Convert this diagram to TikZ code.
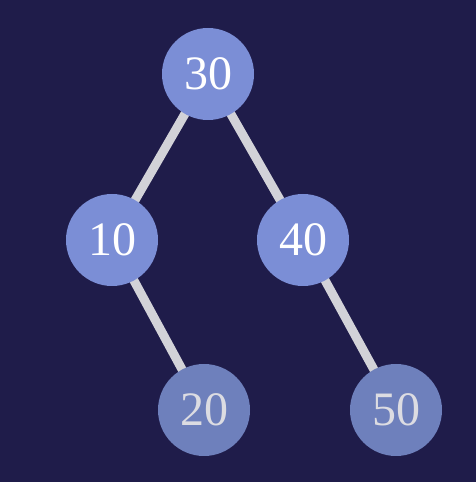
\documentclass[tikz,border=0pt]{standalone}
\usepackage{fontspec}
\setmainfont{Liberation Serif}
\begin{document}
\begin{tikzpicture}[x=1pt,y=1pt,
  treenode/.style={circle,minimum size=92pt,inner sep=0pt,fill=topfill,text=white,font=\fontsize{48}{52}\selectfont},
  lownode/.style={treenode,fill=lowfill,text=lowtext},
  edge/.style={line width=9pt,draw=edgecol}]
\definecolor{bg}{HTML}{1F1C4A}
\definecolor{topfill}{HTML}{7B8ED6}
\definecolor{lowfill}{HTML}{6E80BC}
\definecolor{lowtext}{HTML}{DCDCE2}
\definecolor{edgecol}{HTML}{D2D2D8}
\fill[bg] (0,0) rectangle (476,482);
\useasboundingbox (0,0) rectangle (476,482);
\coordinate (c30) at (208,408);
\coordinate (c10) at (112,242);
\coordinate (c40) at (303,242);
\coordinate (c20) at (204,72);
\coordinate (c50) at (396,72);
\draw[edge] (c30) -- (c10);
\draw[edge] (c30) -- (c40);
\draw[edge] (c10) -- (c20);
\draw[edge] (c40) -- (c50);
\node[treenode] (n30) at (c30) {30};
\node[treenode] (n10) at (c10) {10};
\node[treenode] (n40) at (c40) {40};
\node[lownode] (n20) at (c20) {20};
\node[lownode] (n50) at (c50) {50};
\end{tikzpicture}
\end{document}
